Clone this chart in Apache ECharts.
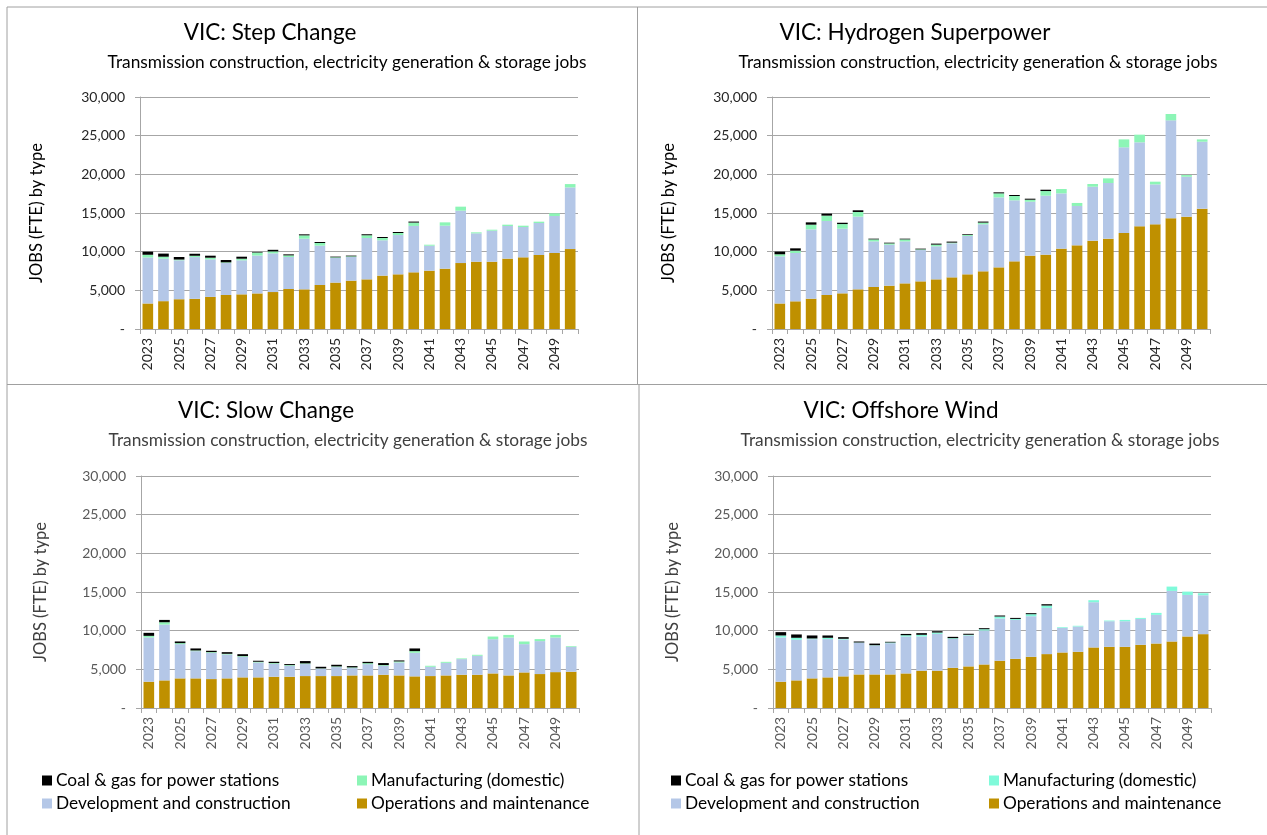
<!DOCTYPE html>
<html>
<head>
<meta charset="utf-8">
<script src="https://cdn.jsdelivr.net/npm/echarts@6/dist/echarts.min.js"></script>
<style>
html,body{margin:0;padding:0;background:#fff;}
#chart{width:1267px;height:835px;}
</style>
</head>
<body>
<div id="chart"></div>
<script>
const years = ['2023','2024','2025','2026','2027','2028','2029','2030','2031','2032','2033','2034','2035','2036','2037','2038','2039','2040','2041','2042','2043','2044','2045','2046','2047','2048','2049','2050'];
const seriesNames = ['Operations and maintenance','Development and construction','Manufacturing (domestic)','Coal & gas for power stations'];
const panelTitles = ['VIC: Step Change','VIC: Hydrogen Superpower','VIC: Slow Change','VIC: Offshore Wind'];
const subTitle = 'Transmission construction, electricity generation & storage jobs';
const yAxisName = 'JOBS (FTE) by type';

// Step Change
const stepOM = [3300,3600,3850,3900,4150,4400,4480,4600,4780,5170,5130,5690,6000,6250,6420,6900,7070,7330,7540,7800,8530,8700,8700,9100,9270,9570,9830,10340];
const stepDC = [5950,5500,5030,5400,4850,4130,4400,4900,5000,4140,6550,5090,3180,3060,5350,4570,5080,6000,3230,5560,6770,3670,4010,4220,3920,4140,4780,7970];
const stepMF = [350,250,100,170,220,90,210,390,260,210,430,340,90,90,350,300,260,430,130,430,520,130,130,170,170,170,350,430];
const stepCG = [400,400,330,260,260,300,260,80,200,130,130,130,90,90,130,130,130,130,0,0,0,0,0,0,0,0,0,0];

// Hydrogen Superpower
const hydOM = [3300,3580,3920,4400,4610,5130,5430,5600,5900,6160,6420,6680,7070,7460,7970,8750,9480,9610,10390,10820,11420,11680,12410,13280,13530,14310,14520,15560];
const hydDC = [6100,6250,8970,9570,8360,9400,5900,5300,5430,4050,4270,4400,4960,6080,9050,7890,6980,7630,7150,5090,6980,7200,11080,10860,5170,12670,5170,8660];
const hydMF = [260,300,600,690,600,600,260,170,260,90,220,90,130,220,520,560,260,600,560,390,350,600,1030,990,350,820,220,300];
const hydCG = [350,300,300,260,170,220,90,90,90,90,130,130,90,130,130,130,130,170,0,0,0,0,0,0,0,0,0,0];

// Slow Change
const slowOM = [3400,3570,3830,3830,3740,3830,3960,3960,4040,4040,4130,4130,4130,4210,4210,4300,4210,4090,4130,4210,4300,4300,4470,4210,4600,4390,4640,4690];
const slowDC = [5720,7220,4430,3520,3400,3090,2660,1930,1680,1420,1550,950,1160,950,1460,1160,1680,3050,1200,1630,2020,2450,4430,4900,3660,4260,4470,3220];
const slowMF = [210,300,130,90,90,90,90,90,90,90,90,40,90,90,130,90,130,215,130,130,90,130,340,340,340,260,340,90];
const slowCG = [390,300,215,260,170,210,250,130,170,130,300,210,210,170,170,260,130,345,0,0,0,0,0,0,0,0,0,0];

// Offshore Wind
const offOM = [3400,3570,3830,3960,4090,4340,4340,4340,4470,4820,4820,5200,5380,5630,6110,6360,6620,6970,7180,7270,7830,7910,7910,8170,8340,8600,9250,9550];
const offDC = [5720,5250,5070,4950,4770,4090,3740,4040,4770,4430,4770,3740,4000,4390,5460,5030,5250,5980,3180,3270,5850,3310,3310,3350,3700,6540,5370,5030];
const offMF = [260,260,90,170,90,40,40,90,170,215,170,90,90,170,260,130,260,300,90,90,260,90,170,130,260,560,430,260];
const offCG = [430,430,390,300,210,130,210,90,170,215,170,170,130,130,130,130,130,170,0,0,0,0,0,0,0,0,0,0];

const panelData = [
  [stepOM, stepDC, stepMF, stepCG],
  [hydOM, hydDC, hydMF, hydCG],
  [slowOM, slowDC, slowMF, slowCG],
  [offOM, offDC, offMF, offCG]
];

const colOM = '#BF9000', colDC = '#B4C7E7', colCG = '#000000';
const colMF = ['#8CF5B6','#8CF5B6','#8CF5B6','#80FADA'];

// layout
const grids = [
  {left:140, top:97, width:438, height:232},
  {left:772, top:97, width:438, height:232},
  {left:141, top:476, width:438, height:232},
  {left:773, top:476, width:438, height:232}
];
const titlePos = [
  {cx:265, ty:16, scx:342, sty:49},
  {cx:910, ty:16, scx:973, sty:49},
  {cx:261, ty:394, scx:343, sty:427},
  {cx:896, ty:394, scx:975, sty:427}
];
const topFont = 'Lato';
const botFont = 'Lato';

const chart = echarts.init(document.getElementById('chart'), null, {renderer:'canvas'});

const option = {
  backgroundColor:'#fff',
  animation:false,
  title:[], grid:[], xAxis:[], yAxis:[], series:[], legend:[],
  graphic:[]
};

for (let p = 0; p < 4; p++) {
  const isTop = p < 2;
  const labCol = isTop ? '#262626' : '#595959';
  const font = isTop ? topFont : botFont;
  option.title.push({
    text: panelTitles[p], left: titlePos[p].cx, top: titlePos[p].ty, textAlign:'center',
    textStyle:{fontFamily:topFont, fontSize:22.5, fontWeight:'normal', color:'#000'}
  });
  option.title.push({
    text: subTitle, left: titlePos[p].scx, top: titlePos[p].sty, textAlign:'center',
    textStyle:{fontFamily:font, fontSize:17.3, fontWeight:'normal', color: isTop ? '#000' : '#404040'}
  });
  option.grid.push(grids[p]);
  option.xAxis.push({
    type:'category', gridIndex:p, data: years, boundaryGap:true,
    axisLine:{show:true, lineStyle:{color:'#A6A6A6', width:1}},
    axisTick:{show:true, interval:0, length:5, lineStyle:{color:'#A6A6A6'}},
    axisLabel:{interval:1, rotate:90, fontFamily:font, fontSize:14, color:labCol, margin:9}
  });
  option.yAxis.push({
    type:'value', gridIndex:p, min:0, max:30000, interval:5000,
    name: yAxisName, nameLocation:'middle', nameGap: isTop ? 95 : 92,
    nameTextStyle:{fontFamily:font, fontSize:16.5, color: isTop ? '#000' : '#404040'},
    axisLine:{show:true, lineStyle:{color:'#A6A6A6', width:1}},
    axisTick:{show:true, length:5, lineStyle:{color:'#A6A6A6'}},
    splitLine:{show:true, lineStyle:{color:'#A6A6A6', width:1}},
    axisLabel:{fontFamily:font, fontSize:14, color:labCol, margin:15,
      formatter: v => v === 0 ? '-' : v.toLocaleString('en-US')}
  });
  const cols = [colOM, colDC, colMF[p], colCG];
  for (let s = 0; s < 4; s++) {
    option.series.push({
      type:'bar', name: seriesNames[s], xAxisIndex:p, yAxisIndex:p, stack:'st'+p,
      data: panelData[p][s], barCategoryGap:'32%',
      itemStyle:{color: cols[s]},
      emphasis:{disabled:true}
    });
  }
}

// legends (bottom panels only)
const legendItems = [
  {name:'Coal & gas for power stations', col:0, row:0},
  {name:'Manufacturing (domestic)', col:1, row:0},
  {name:'Development and construction', col:0, row:1},
  {name:'Operations and maintenance', col:1, row:1}
];
const legendX = [[37, 352],[666, 984]];
const legendY = [767, 790];
for (let q = 0; q < 2; q++) {
  const p = q + 2;
  const colorMap = {
    'Coal & gas for power stations': colCG,
    'Manufacturing (domestic)': colMF[p],
    'Development and construction': colDC,
    'Operations and maintenance': colOM
  };
  legendItems.forEach(it => {
    option.legend.push({
      data:[{name: it.name, itemStyle:{color: colorMap[it.name]}}],
      left: legendX[q][it.col], top: legendY[it.row],
      icon:'rect', itemWidth:10, itemHeight:10, itemGap:4,
      selectedMode:false,
      textStyle:{fontFamily:topFont, fontSize:17.3, color:'#000', padding:[0,0,0,-1]}
    });
  });
}

// panel borders
const lineStyle = {stroke:'#A0A0A0', lineWidth:1};
const lines = [
  [7,7,1267,7],
  [7,7,7,835],
  [637.5,7,637.5,384],
  [639,384,639,835],
  [7,384.5,1267,384.5]
];
lines.forEach(l => option.graphic.push({type:'line', shape:{x1:l[0],y1:l[1],x2:l[2],y2:l[3]}, style:lineStyle, silent:true}));

chart.setOption(option);
</script>
</body>
</html>
